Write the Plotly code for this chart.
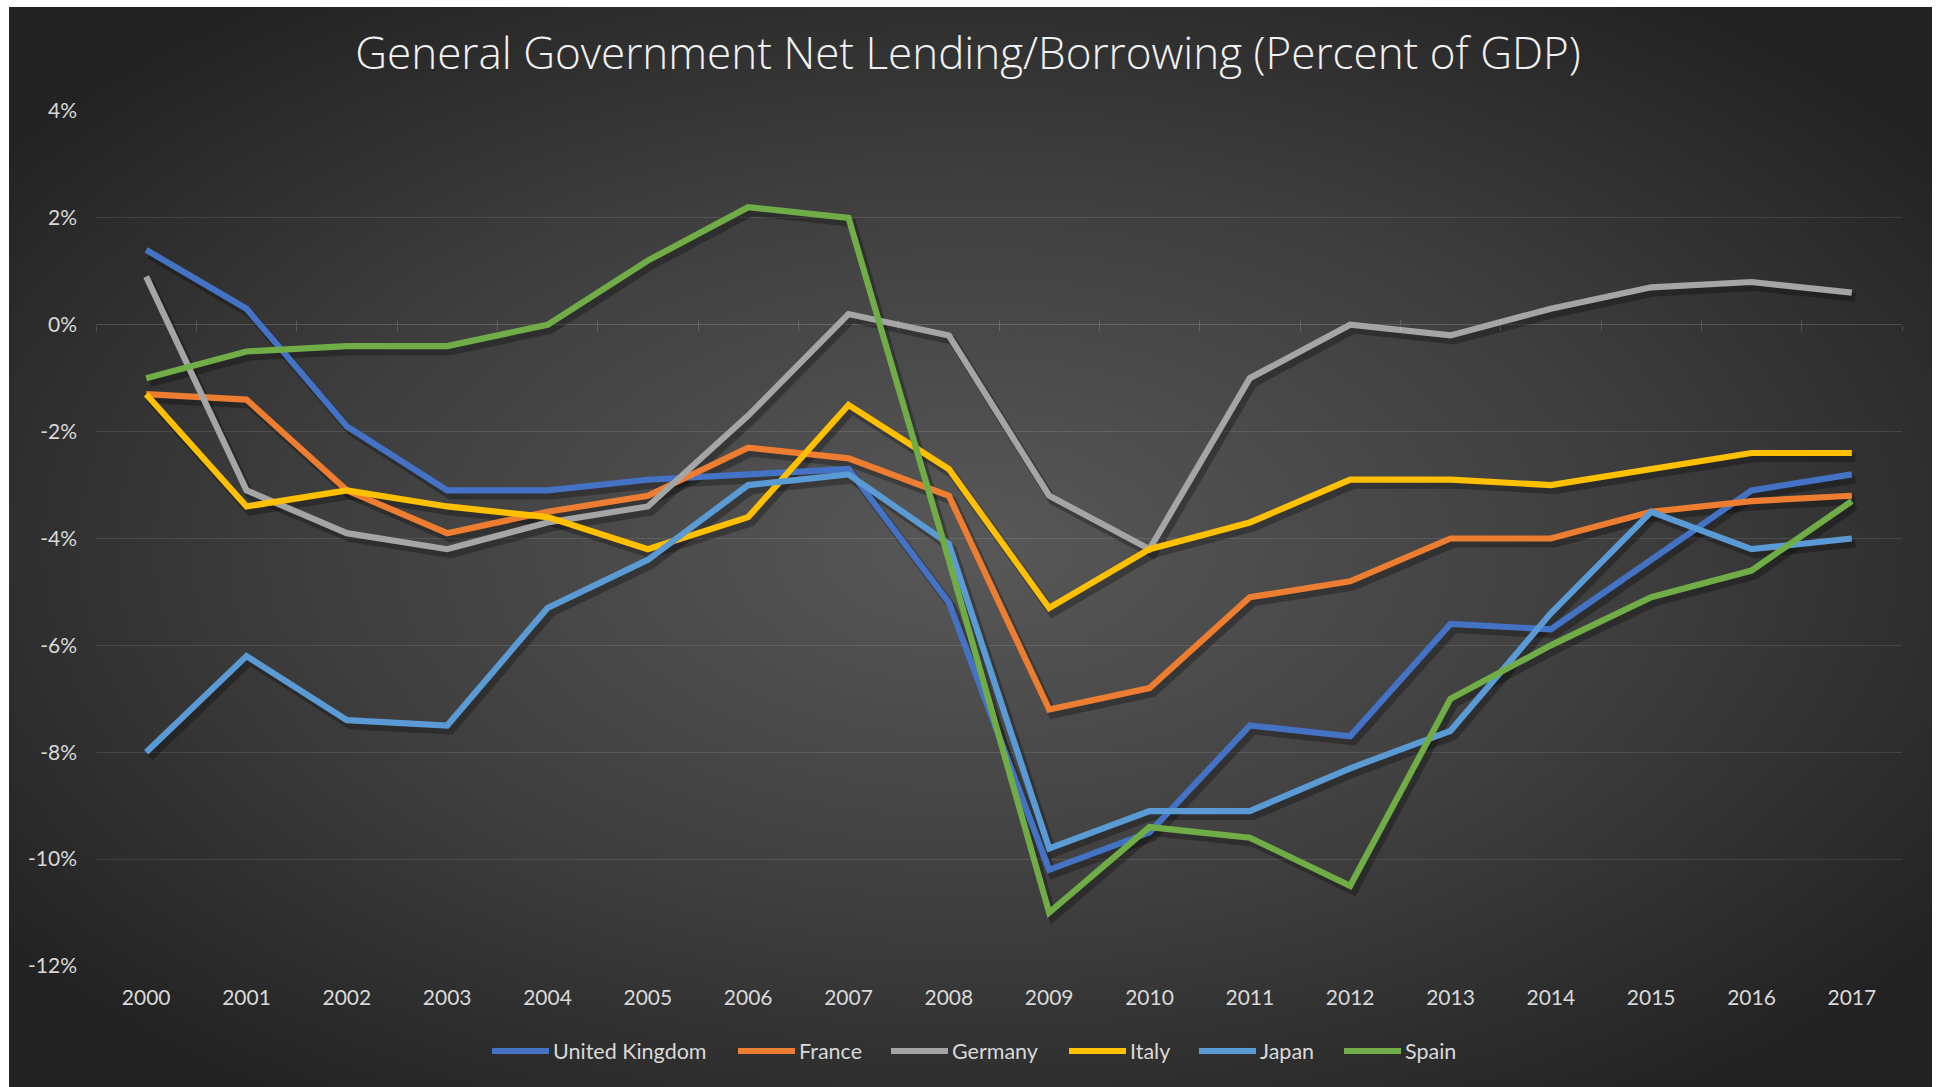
import base64
import plotly.graph_objects as go

# General government net lending/borrowing, percent of GDP
years = list(range(2000, 2018))

united_kingdom = [1.4, 0.3, -1.9, -3.1, -3.1, -2.9, -2.8, -2.7, -5.2, -10.2,
                  -9.5, -7.5, -7.7, -5.6, -5.7, -4.4, -3.1, -2.8]
france = [-1.3, -1.4, -3.1, -3.9, -3.5, -3.2, -2.3, -2.5, -3.2, -7.2,
          -6.8, -5.1, -4.8, -4.0, -4.0, -3.5, -3.3, -3.2]
germany = [0.9, -3.1, -3.9, -4.2, -3.7, -3.4, -1.7, 0.2, -0.2, -3.2,
           -4.2, -1.0, 0.0, -0.2, 0.3, 0.7, 0.8, 0.6]
italy = [-1.3, -3.4, -3.1, -3.4, -3.6, -4.2, -3.6, -1.5, -2.7, -5.3,
         -4.2, -3.7, -2.9, -2.9, -3.0, -2.7, -2.4, -2.4]
japan = [-8.0, -6.2, -7.4, -7.5, -5.3, -4.4, -3.0, -2.8, -4.1, -9.8,
         -9.1, -9.1, -8.3, -7.6, -5.4, -3.5, -4.2, -4.0]
spain = [-1.0, -0.5, -0.4, -0.4, 0.0, 1.2, 2.2, 2.0, -4.4, -11.0,
         -9.4, -9.6, -10.5, -7.0, -6.0, -5.1, -4.6, -3.3]

series_names = ["United Kingdom", "France", "Germany", "Italy", "Japan", "Spain"]
series_values = [united_kingdom, france, germany, italy, japan, spain]
series_colors = ["#4472C4", "#ED7D31", "#A5A5A5", "#FFC000", "#5B9BD5", "#70AD47"]

y_ticks = [4, 2, 0, -2, -4, -6, -8, -10, -12]
y_tick_labels = ["4%", "2%", "0%", "-2%", "-4%", "-6%", "-8%", "-10%", "-12%"]

W, H = 1939, 1087
L, R, T, B = 96, 37, 111, 121
plot_w = W - L - R
plot_h = H - T - B

FONT = "Lato, 'Open Sans', sans-serif"
TICK_COLOR = "#d9d9d9"


def px_x(px):
    """Horizontal pixel position -> paper coordinate."""
    return (px - L) / plot_w


def px_y(py):
    """Vertical pixel position (from top) -> paper coordinate."""
    return (H - B - py) / plot_h


fig = go.Figure()

# soft drop shadows under every line
for vals in series_values:
    fig.add_trace(go.Scatter(
        x=[yr + 0.035 for yr in years], y=[v - 0.09 for v in vals],
        mode="lines", line=dict(color="rgba(0,0,0,0.28)", width=8.5),
        hoverinfo="skip", showlegend=False,
    ))

for name, vals, col in zip(series_names, series_values, series_colors):
    fig.add_trace(go.Scatter(
        x=years, y=vals, name=name, mode="lines",
        line=dict(color=col, width=6.2), showlegend=False,
    ))

# helper traces so the crossing tick axes are drawn on the zero line
fig.add_trace(go.Scatter(x=[], y=[], xaxis="x2", showlegend=False, hoverinfo="skip"))
fig.add_trace(go.Scatter(x=[], y=[], xaxis="x3", showlegend=False, hoverinfo="skip"))

# dark radial-gradient chart background
svg = (
    '<svg xmlns="http://www.w3.org/2000/svg" width="1923" height="1080">'
    '<defs><radialGradient id="g" cx="50%" cy="50%" r="62%">'
    '<stop offset="0" stop-color="#585858"/>'
    '<stop offset="0.55" stop-color="#3e3e3e"/>'
    '<stop offset="1" stop-color="#232323"/>'
    '</radialGradient></defs>'
    '<rect width="100%" height="100%" fill="url(#g)"/></svg>'
)
bg_src = "data:image/svg+xml;base64," + base64.b64encode(svg.encode()).decode()

bx0, bx1, by0, by1 = 9, 1932, 7, 1087
fig.add_layout_image(dict(
    source=bg_src, xref="paper", yref="paper",
    x=px_x(bx0), y=px_y(by0),
    sizex=(bx1 - bx0) / plot_w, sizey=(by1 - by0) / plot_h,
    xanchor="left", yanchor="top", sizing="stretch", layer="below",
))

# legend row along the bottom: long swatch followed by the series name
legend_y = 1051
swatch_left = [492, 738, 891, 1069, 1199, 1344]
swatch_len = 57
shapes = []
annotations = []
for name, col, sx in zip(series_names, series_colors, swatch_left):
    shapes.append(dict(
        type="line", xref="paper", yref="paper",
        x0=px_x(sx), x1=px_x(sx + swatch_len), y0=px_y(legend_y), y1=px_y(legend_y),
        line=dict(color=col, width=6),
    ))
    annotations.append(dict(
        text=name, xref="paper", yref="paper",
        x=px_x(sx + swatch_len + 2), y=px_y(legend_y),
        xanchor="left", yanchor="middle", showarrow=False,
        font=dict(family=FONT, size=21.5, color=TICK_COLOR),
    ))

zero_pos = (0 - (-12)) / 16
boundary_ticks = [yr - 0.5 for yr in years] + [years[-1] + 0.5]

fig.update_layout(
    width=W, height=H,
    margin=dict(l=L, r=R, t=T, b=B),
    paper_bgcolor="white",
    plot_bgcolor="rgba(0,0,0,0)",
    title=dict(
        text="General Government Net Lending/Borrowing (Percent of GDP)",
        x=968 / W, xanchor="center", y=1 - 54 / H, yanchor="middle",
        font=dict(family="'Open Sans', Lato, sans-serif", size=44, weight=300,
                  color="#f2f2f2"),
    ),
    xaxis=dict(
        range=[1999.5, 2017.5], tickvals=years, ticktext=[str(y) for y in years],
        showgrid=False, zeroline=False, showline=False, ticks="",
        tickfont=dict(family=FONT, size=21, color=TICK_COLOR),
        ticklabelstandoff=17,
    ),
    xaxis2=dict(
        overlaying="x", anchor="free", position=zero_pos, matches="x",
        tickvals=boundary_ticks, showticklabels=False, ticks="outside",
        ticklen=5, tickwidth=1.3, tickcolor="rgba(255,255,255,0.16)",
        showgrid=False, zeroline=False, showline=False,
    ),
    xaxis3=dict(
        overlaying="x", anchor="free", position=zero_pos, matches="x",
        tickvals=boundary_ticks, showticklabels=False, ticks="inside",
        ticklen=5, tickwidth=1.3, tickcolor="rgba(255,255,255,0.16)",
        showgrid=False, zeroline=False, showline=False,
    ),
    yaxis=dict(
        range=[-12, 4], tickvals=y_ticks, ticktext=y_tick_labels,
        showgrid=True, gridcolor="rgba(255,255,255,0.11)", gridwidth=1.3,
        zeroline=True, zerolinecolor="rgba(255,255,255,0.16)", zerolinewidth=1.3,
        showline=False, ticks="",
        tickfont=dict(family=FONT, size=21, color=TICK_COLOR),
        ticklabelstandoff=18,
    ),
    shapes=shapes,
    annotations=annotations,
    showlegend=False,
)

fig.write_html("out.html")
